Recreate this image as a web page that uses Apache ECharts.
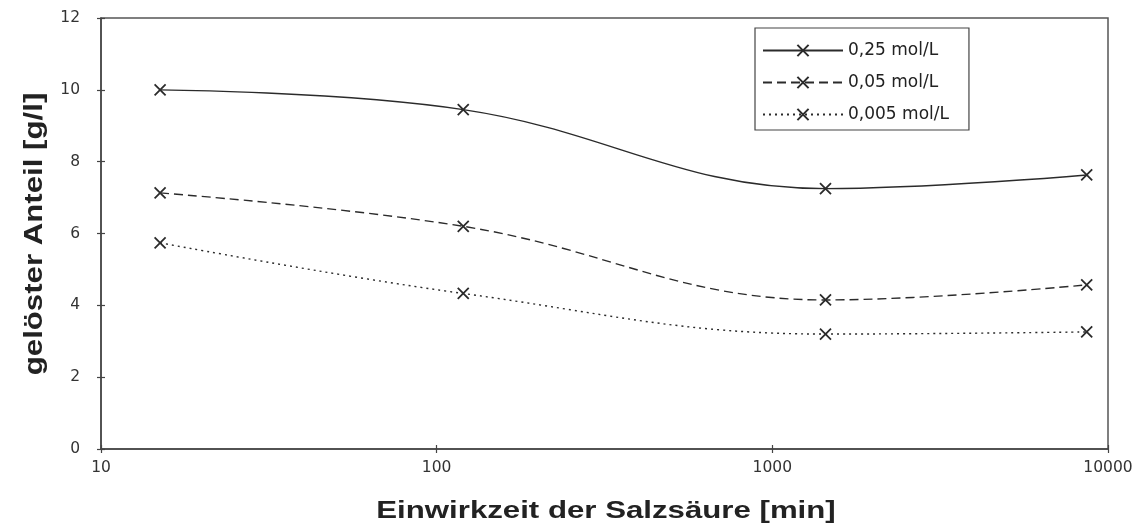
<!DOCTYPE html>
<html>
<head>
<meta charset="utf-8">
<script src="https://cdn.jsdelivr.net/npm/echarts@6/dist/echarts.min.js"></script>
<style>
  html, body { margin: 0; padding: 0; background: #fff; }
  #chart { width: 1142px; height: 531px; }
</style>
</head>
<body>
<div id="chart"></div>
<script>
// Exposure times (minutes) and dissolved fraction (g/l) per HCl concentration
const times = [15, 120, 1440, 8640];
const seriesNames = ['0,25 mol/L', '0,05 mol/L', '0,005 mol/L'];
const conc025 = [10.0, 9.45, 7.25, 7.63];
const conc005 = [7.13, 6.2, 4.15, 4.57];
const conc0005 = [5.74, 4.33, 3.2, 3.26];
const yTicks = [0, 2, 4, 6, 8, 10, 12];
const xTicks = [10, 100, 1000, 10000];
const xTitle = 'Einwirkzeit der Salzsäure [min]';
const yTitle = 'gelöster Anteil [g/l]';

const ink = '#2b2b2b';
const axisInk = '#444';
const labelFont = '"DejaVu Sans", Verdana, sans-serif';
const titleFont = '"Liberation Sans", Arial, sans-serif';
const crossSymbol = 'path://M0,0L10,10M10,0L0,10';

function makeSeries(name, values, dash) {
  return {
    name: name,
    type: 'line',
    data: times.map((t, i) => [t, values[i]]),
    smooth: 0.4,
    symbol: crossSymbol,
    symbolSize: 11,
    showSymbol: true,
    lineStyle: { color: ink, width: 1.4, type: dash },
    itemStyle: { color: 'rgba(0,0,0,0)', borderColor: ink, borderWidth: 1.8 },
    emphasis: { disabled: true },
    z: 3
  };
}

// x axis pair: the second one only adds the inner half of the crossing ticks
function xAxisDef(inner) {
  return {
    type: 'log',
    logBase: 10,
    min: xTicks[0],
    max: xTicks[xTicks.length - 1],
    position: 'bottom',
    axisLine: { show: !inner, onZero: false, lineStyle: { color: axisInk, width: 1.5 } },
    axisTick: { show: true, inside: inner, length: 4, lineStyle: { color: axisInk, width: 1.2 } },
    minorTick: { show: false },
    splitLine: { show: false },
    axisLabel: {
      show: !inner,
      fontFamily: labelFont, fontSize: 15.5, color: '#333', margin: 11,
      formatter: v => xTicks.includes(Math.round(v)) ? String(Math.round(v)) : ''
    }
  };
}

function yAxisDef(inner) {
  return {
    type: 'value',
    min: yTicks[0],
    max: yTicks[yTicks.length - 1],
    interval: 2,
    position: 'left',
    axisLine: { show: !inner, onZero: false, lineStyle: { color: axisInk, width: 1.5 } },
    axisTick: { show: true, inside: inner, length: 4, lineStyle: { color: axisInk, width: 1.2 } },
    splitLine: { show: false },
    axisLabel: { show: !inner, fontFamily: labelFont, fontSize: 15.5, color: '#333', margin: 21 }
  };
}

const chart = echarts.init(document.getElementById('chart'), null, { renderer: 'canvas' });
chart.setOption({
  animation: false,
  backgroundColor: '#fff',
  grid: {
    left: 101, right: 34, top: 18, bottom: 82,
    show: true, borderColor: '#555', borderWidth: 1.5
  },
  legend: {
    left: 755, top: 28,
    orient: 'vertical',
    padding: [14, 20, 7, 7],
    itemGap: 15,
    itemWidth: 80,
    itemHeight: 14,
    borderColor: '#444',
    borderWidth: 1.2,
    backgroundColor: '#fff',
    textStyle: { fontFamily: labelFont, fontSize: 17, color: '#222' },
    data: seriesNames
  },
  xAxis: [xAxisDef(false), xAxisDef(true)],
  yAxis: [yAxisDef(false), yAxisDef(true)],
  graphic: [
    {
      type: 'text', x: 606, y: 511, scaleX: 1.3, z: 10,
      style: {
        text: xTitle, fill: '#222', align: 'center', verticalAlign: 'middle',
        fontFamily: titleFont, fontSize: 24, fontWeight: 'bold'
      }
    },
    {
      type: 'text', x: 35, y: 234, rotation: Math.PI / 2, scaleX: 1.2, z: 10,
      style: {
        text: yTitle, fill: '#222', align: 'center', verticalAlign: 'middle',
        fontFamily: titleFont, fontSize: 26, fontWeight: 'bold'
      }
    }
  ],
  series: [
    makeSeries(seriesNames[0], conc025, 'solid'),
    makeSeries(seriesNames[1], conc005, [9, 5]),
    makeSeries(seriesNames[2], conc0005, [2, 4])
  ]
});
</script>
</body>
</html>
